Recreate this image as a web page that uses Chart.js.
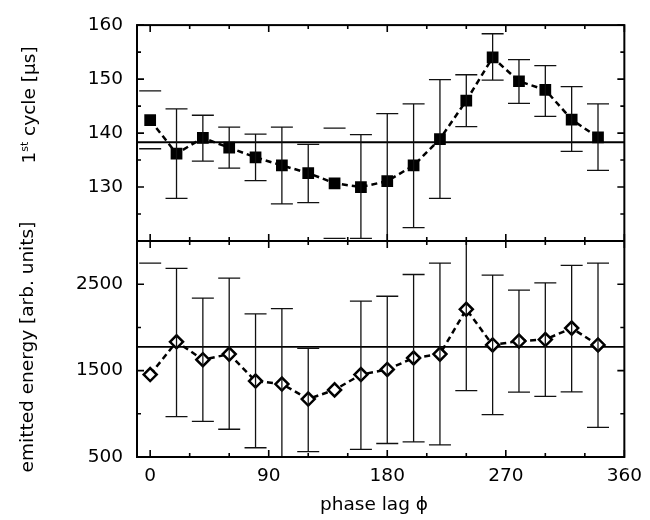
<!DOCTYPE html>
<html><head><meta charset="utf-8">
<script src="https://cdn.jsdelivr.net/npm/chart.js@4.4.1/dist/chart.umd.min.js"></script>
<style>html,body{margin:0;padding:0;background:#fff}#wrap{width:650px;height:520px}</style>
</head><body><div id="wrap"><canvas id="c" width="650" height="520"></canvas></div>
<script>
// ---- data ----
const phase = [0, 20, 40, 60, 80, 100, 120, 140, 160, 180, 200, 220, 240, 260, 280, 300, 320, 340];
const cycle   = [142.4, 136.2, 139.1, 137.3, 135.5, 134.0, 132.6, 130.7, 130.0, 131.1, 134.0, 138.9, 146.0, 154.0, 149.6, 148.0, 142.5, 139.2];
const cycleHi = [147.8, 144.5, 143.3, 141.1, 139.8, 141.1, 137.9, 140.9, 139.7, 143.6, 145.4, 149.9, 150.8, 158.4, 153.6, 152.5, 148.6, 145.4];
const cycleLo = [137.1, 127.9, 134.8, 133.5, 131.2, 126.9, 127.1, 120.5, 120.5, 119.0, 122.5, 127.9, 141.2, 149.8, 145.5, 143.1, 136.6, 133.1];
const energy   = [1454, 1834, 1627, 1691, 1379, 1345, 1171, 1277, 1454, 1514, 1646, 1691, 2210, 1797, 1842, 1860, 1992, 1797];
const energyHi = [2745, 2684, 2339, 2571, 2158, 2218, 1758, null, 2305, 2361, 2613, 2745, 3100, 2605, 2432, 2515, 2718, 2745];
const energyLo = [400, 968, 912, 821, 607, 450, 562, null, 589, 656, 675, 640, 1269, 991, 1250, 1202, 1255, 844];
const cycleMean = 138.3;
const energyMean = 1775;
// phases whose error bars show only the caps in the reference
const cycleCapsOnly = [0, 140];
const energyCapsOnly = [0];
// ---- ticks and texts ----
const xTickLabels = [0, 90, 180, 270, 360];
const xMinorTicks = [0, 30, 60, 90, 120, 150, 180, 210, 240, 270, 300, 330, 360];
const cycleTickLabels = [130, 140, 150, 160];
const cycleMinorTicks = [120, 125, 130, 135, 140, 145, 150, 155, 160];
const energyTickLabels = [500, 1500, 2500];
const energyMinorTicks = [500, 1000, 1500, 2000, 2500, 3000];
const xTitle = 'phase lag ϕ';
const yTopTitleParts = ['1', 'st', ' cycle [µs]'];
const yBottomTitle = 'emitted energy [arb. units]';

const FONT = "'DejaVu Sans', sans-serif";
const FS = 18.5;

function drawErr(ctx, area, xs, ys, lo, hi, capsOnly) {
  ctx.save();
  ctx.beginPath();
  ctx.rect(area.left, ys.top, area.right - area.left, ys.bottom - ys.top);
  ctx.clip();
  ctx.strokeStyle = '#111';
  ctx.lineWidth = 1.3;
  phase.forEach((p, i) => {
    if (hi[i] == null || lo[i] == null) return;
    const x = xs.getPixelForValue(p);
    const y1 = ys.getPixelForValue(hi[i]);
    const y2 = ys.getPixelForValue(lo[i]);
    ctx.beginPath();
    if (!capsOnly.includes(p)) { ctx.moveTo(x, y1); ctx.lineTo(x, y2); }
    ctx.moveTo(x - 11, y1); ctx.lineTo(x + 11, y1);
    ctx.moveTo(x - 11, y2); ctx.lineTo(x + 11, y2);
    ctx.stroke();
  });
  ctx.restore();
}

const panelPlugin = {
  id: 'panels',
  beforeDatasetsDraw(chart) {
    const {ctx, chartArea: a, scales} = chart;
    ctx.save();
    ctx.strokeStyle = '#000';
    ctx.lineWidth = 1.8;
    [[scales.yT, cycleMean], [scales.yE, energyMean]].forEach(([s, v]) => {
      const y = s.getPixelForValue(v);
      ctx.beginPath(); ctx.moveTo(a.left, y); ctx.lineTo(a.right, y); ctx.stroke();
    });
    ctx.restore();
  },
  afterDatasetsDraw(chart) {
    const {ctx, chartArea: a, scales} = chart;
    drawErr(ctx, a, scales.x, scales.yT, cycleLo, cycleHi, cycleCapsOnly);
    drawErr(ctx, a, scales.x, scales.yE, energyLo, energyHi, energyCapsOnly);
  },
  afterDraw(chart) {
    const {ctx, chartArea: a, scales} = chart;
    const xs = scales.x, yT = scales.yT, yE = scales.yE;
    const mid = yT.top < yE.top ? yT.bottom : yT.top;
    ctx.save();
    ctx.strokeStyle = '#000';
    ctx.lineWidth = 2;
    ctx.strokeRect(a.left, a.top, a.right - a.left, a.bottom - a.top);
    ctx.beginPath(); ctx.moveTo(a.left, mid); ctx.lineTo(a.right, mid); ctx.stroke();
    ctx.lineWidth = 1.6;
    ctx.beginPath();
    xMinorTicks.forEach(v => {
      const x = xs.getPixelForValue(v);
      const L = xTickLabels.includes(v) ? 7 : 4;
      ctx.moveTo(x, a.bottom); ctx.lineTo(x, a.bottom - L);
      ctx.moveTo(x, a.top); ctx.lineTo(x, a.top + L);
      ctx.moveTo(x, mid - L); ctx.lineTo(x, mid + L);
    });
    [[yT, cycleMinorTicks, cycleTickLabels], [yE, energyMinorTicks, energyTickLabels]].forEach(([s, minor, major]) => {
      minor.forEach(v => {
        const y = s.getPixelForValue(v);
        const L = major.includes(v) ? 7 : 4;
        ctx.moveTo(a.left, y); ctx.lineTo(a.left + L, y);
        ctx.moveTo(a.right, y); ctx.lineTo(a.right - L, y);
      });
    });
    ctx.stroke();

    // titles
    ctx.fillStyle = '#000';
    ctx.font = FS + 'px ' + FONT;
    ctx.textAlign = 'center';
    ctx.textBaseline = 'middle';
    ctx.fillText(xTitle, 374, 505);

    ctx.save();
    ctx.translate(28, (yE.top + yE.bottom) / 2 - 2);
    ctx.rotate(-Math.PI / 2);
    ctx.fillText(yBottomTitle, 0, 0);
    ctx.restore();

    ctx.save();
    ctx.translate(28, 105);
    ctx.rotate(-Math.PI / 2);
    ctx.textAlign = 'left';
    ctx.textBaseline = 'alphabetic';
    const big = FS + 'px ' + FONT, small = '11px ' + FONT;
    ctx.font = big; const w1 = ctx.measureText(yTopTitleParts[0]).width;
    ctx.font = small; const w2 = ctx.measureText(yTopTitleParts[1]).width;
    ctx.font = big; const w3 = ctx.measureText(yTopTitleParts[2]).width;
    let x0 = -(w1 + w2 + w3) / 2;
    const base = 6.5;
    ctx.font = big; ctx.fillText(yTopTitleParts[0], x0, base); x0 += w1;
    ctx.font = small; ctx.fillText(yTopTitleParts[1], x0, base - 7); x0 += w2;
    ctx.font = big; ctx.fillText(yTopTitleParts[2], x0, base);
    ctx.restore();
    ctx.restore();
  }
};

const tickFont = {family: "'DejaVu Sans', sans-serif", size: FS};
const plainLabel = v => String(v);

new Chart(document.getElementById('c'), {
  type: 'scatter',
  data: {
    datasets: [
      {
        label: '1st cycle',
        data: phase.map((p, i) => ({x: p, y: cycle[i]})),
        yAxisID: 'yT',
        showLine: true,
        borderColor: '#000',
        borderWidth: 2.5,
        borderDash: [6, 4],
        pointStyle: 'rect',
        pointRadius: 8.3,
        pointBackgroundColor: '#000',
        pointBorderColor: '#000',
        pointBorderWidth: 0
      },
      {
        label: 'emitted energy',
        data: phase.map((p, i) => ({x: p, y: energy[i]})),
        yAxisID: 'yE',
        showLine: true,
        borderColor: '#000',
        borderWidth: 2.5,
        borderDash: [6, 4],
        pointStyle: 'rectRot',
        pointRadius: 6.5,
        pointBackgroundColor: '#fff',
        pointBorderColor: '#000',
        pointBorderWidth: 2.5
      }
    ]
  },
  options: {
    responsive: false,
    animation: false,
    events: [],
    layout: {padding: {top: 15, right: 18, left: 0, bottom: 0}},
    plugins: {legend: {display: false}, tooltip: {enabled: false}},
    scales: {
      x: {
        type: 'linear', position: 'bottom', min: -10, max: 360,
        grid: {display: false, drawTicks: false}, border: {display: false},
        ticks: {font: tickFont, color: '#000', padding: 8, autoSkip: false, maxRotation: 0, callback: plainLabel},
        afterBuildTicks: s => { s.ticks = xTickLabels.map(v => ({value: v})); },
        afterFit: s => { s.height = 63; }
      },
      yE: {
        type: 'linear', position: 'left', stack: 'panels', stackWeight: 1, min: 500, max: 3000,
        grid: {display: false, drawTicks: false}, border: {display: false},
        ticks: {font: tickFont, color: '#000', padding: 14, callback: plainLabel},
        afterBuildTicks: s => { s.ticks = energyTickLabels.map(v => ({value: v})); },
        afterFit: s => { s.width = 137; }
      },
      yT: {
        type: 'linear', position: 'left', stack: 'panels', stackWeight: 1, min: 120, max: 160,
        grid: {display: false, drawTicks: false}, border: {display: false},
        ticks: {font: tickFont, color: '#000', padding: 14, callback: plainLabel},
        afterBuildTicks: s => { s.ticks = cycleTickLabels.map(v => ({value: v})); },
        afterFit: s => { s.width = 137; }
      }
    }
  },
  plugins: [panelPlugin]
});
</script>
</body></html>
